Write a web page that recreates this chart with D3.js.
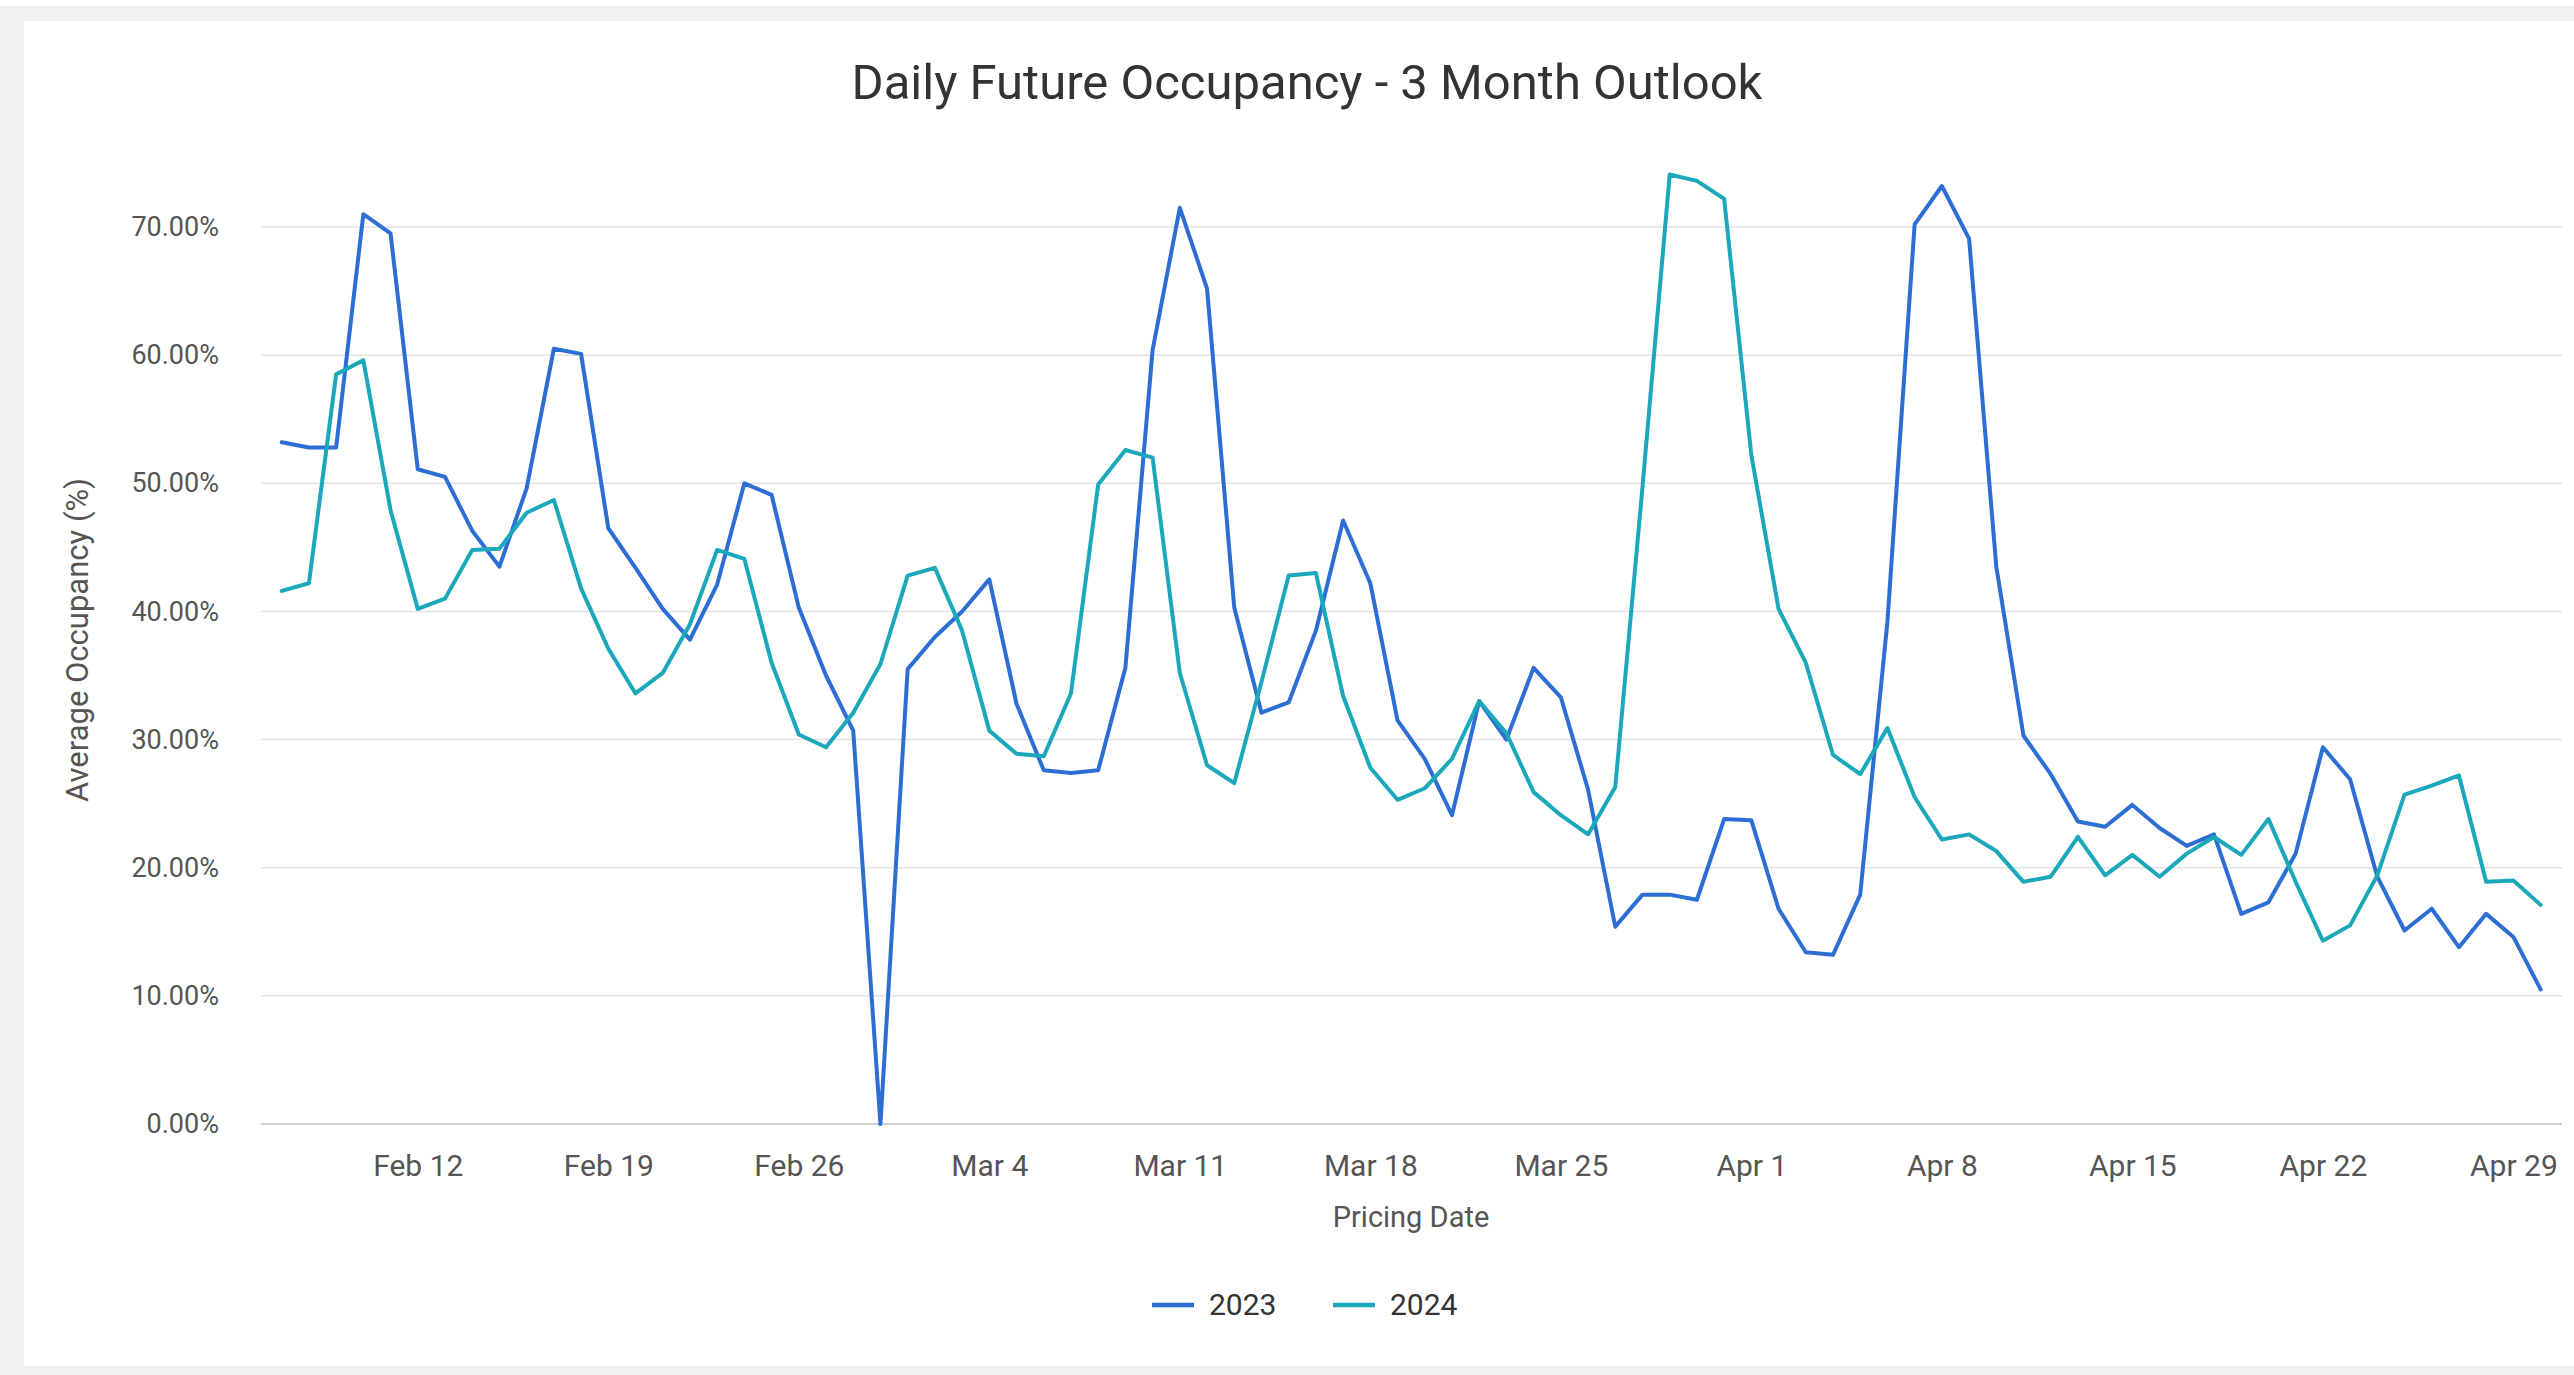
<!DOCTYPE html>
<html>
<head>
<meta charset="utf-8">
<script src="https://cdn.jsdelivr.net/npm/d3@7/dist/d3.min.js"></script>
<style>
  html, body { margin: 0; padding: 0; background: #ffffff; }
  svg { display: block; }
  text { font-family: Roboto, "Noto Sans", Arial, sans-serif; }
</style>
</head>
<body>
<svg id="chart" width="2574" height="1375"></svg>
<script>
// ---- data ----
const dates = [
  "2024-02-07","2024-02-08","2024-02-09","2024-02-10","2024-02-11","2024-02-12","2024-02-13","2024-02-14",
  "2024-02-15","2024-02-16","2024-02-17","2024-02-18","2024-02-19","2024-02-20","2024-02-21","2024-02-22",
  "2024-02-23","2024-02-24","2024-02-25","2024-02-26","2024-02-27","2024-02-28","2024-02-29",
  "2024-03-01","2024-03-02","2024-03-03","2024-03-04","2024-03-05","2024-03-06","2024-03-07","2024-03-08",
  "2024-03-09","2024-03-10","2024-03-11","2024-03-12","2024-03-13","2024-03-14","2024-03-15","2024-03-16",
  "2024-03-17","2024-03-18","2024-03-19","2024-03-20","2024-03-21","2024-03-22","2024-03-23","2024-03-24",
  "2024-03-25","2024-03-26","2024-03-27","2024-03-28","2024-03-29","2024-03-30","2024-03-31",
  "2024-04-01","2024-04-02","2024-04-03","2024-04-04","2024-04-05","2024-04-06","2024-04-07","2024-04-08",
  "2024-04-09","2024-04-10","2024-04-11","2024-04-12","2024-04-13","2024-04-14","2024-04-15","2024-04-16",
  "2024-04-17","2024-04-18","2024-04-19","2024-04-20","2024-04-21","2024-04-22","2024-04-23","2024-04-24",
  "2024-04-25","2024-04-26","2024-04-27","2024-04-28","2024-04-29","2024-04-30"
];

const occ2023 = [
  53.2, 52.8, 52.8, 71.0, 69.5, 51.1, 50.5, 46.3, 43.5, 49.6,
  60.5, 60.1, 46.5, 43.4, 40.2, 37.8, 42.1, 50.0, 49.1, 40.3,
  35.0, 30.7, 0.0, 35.5, 38.0, 40.0, 42.5, 32.8, 27.6, 27.4,
  27.6, 35.6, 60.4, 71.5, 65.2, 40.3, 32.1, 32.9, 38.5, 47.1,
  42.2, 31.5, 28.5, 24.1, 33.0, 30.0, 35.6, 33.3, 26.1, 15.4,
  17.9, 17.9, 17.5, 23.8, 23.7, 16.8, 13.4, 13.2, 17.9, 39.2,
  70.2, 73.2, 69.1, 43.5, 30.3, 27.3, 23.6, 23.2, 24.9, 23.1,
  21.7, 22.6, 16.4, 17.3, 21.1, 29.4, 26.9, 19.3, 15.1, 16.8,
  13.8, 16.4, 14.6, 10.5
];

const occ2024 = [
  41.6, 42.2, 58.5, 59.6, 47.9, 40.2, 41.0, 44.8, 44.9, 47.7,
  48.7, 41.8, 37.1, 33.6, 35.2, 39.0, 44.8, 44.1, 36.0, 30.4,
  29.4, 32.1, 35.9, 42.8, 43.4, 38.5, 30.7, 28.9, 28.7, 33.6,
  49.9, 52.6, 52.0, 35.2, 28.0, 26.6, 34.5, 42.8, 43.0, 33.4,
  27.8, 25.3, 26.2, 28.5, 33.0, 30.5, 25.9, 24.1, 22.6, 26.3,
  49.7, 74.1, 73.6, 72.2, 52.2, 40.2, 36.0, 28.8, 27.3, 30.9,
  25.5, 22.2, 22.6, 21.3, 18.9, 19.3, 22.4, 19.4, 21.0, 19.3,
  21.1, 22.4, 21.0, 23.8, 18.9, 14.3, 15.5, 19.4, 25.7, 26.4,
  27.2, 18.9, 19.0, 17.1
];

const seriesNames = ["2023", "2024"];
const seriesColors = ["#2d6ed5", "#1ba8bb"];

const xTickDates = ["2024-02-12","2024-02-19","2024-02-26","2024-03-04","2024-03-11","2024-03-18",
                    "2024-03-25","2024-04-01","2024-04-08","2024-04-15","2024-04-22","2024-04-29"];
const xTickLabels = ["Feb 12","Feb 19","Feb 26","Mar 4","Mar 11","Mar 18",
                     "Mar 25","Apr 1","Apr 8","Apr 15","Apr 22","Apr 29"];
const yTicks = [0, 10, 20, 30, 40, 50, 60, 70];

const titleText = "Daily Future Occupancy - 3 Month Outlook";
const xTitle = "Pricing Date";
const yTitle = "Average Occupancy (%)";

// ---- layout ----
const W = 2574, H = 1375;
const plotLeft = 261, plotRight = 2562;
const parse = d3.timeParse("%Y-%m-%d");
const svg = d3.select("#chart");

// page frame
svg.append("rect").attr("x", 0).attr("y", 0).attr("width", W).attr("height", H).attr("fill", "#ffffff");
svg.append("rect").attr("x", 0).attr("y", 6).attr("width", W).attr("height", H - 6).attr("fill", "#f1f1f1");
svg.append("rect").attr("x", 24).attr("y", 21).attr("width", W - 24).attr("height", 1345)
   .attr("fill", "#ffffff");

const x = d3.scaleTime()
  .domain([parse(dates[0]), parse(dates[dates.length - 1])])
  .range([281.7, 2540.6]);
const y = d3.scaleLinear().domain([0, 75]).range([1124, 1124 - 75 * 12.814]);

// gridlines
svg.append("g").selectAll("line").data(yTicks).join("line")
  .attr("x1", plotLeft).attr("x2", plotRight)
  .attr("y1", d => y(d)).attr("y2", d => y(d))
  .attr("stroke", d => d === 0 ? "#cfcfcf" : "#e3e3e3")
  .attr("stroke-width", d => d === 0 ? 2 : 1.5);

// y axis
const yAxis = d3.axisLeft(y).tickValues(yTicks).tickSize(0).tickPadding(0)
  .tickFormat(d => d3.format(".2f")(d) + "%");
const gy = svg.append("g").attr("transform", "translate(219,0)").call(yAxis);
gy.select(".domain").remove();
gy.selectAll("text").attr("font-size", 27).attr("fill", "#555").attr("font-family", "Roboto, sans-serif");

// x axis
const xAxis = d3.axisBottom(x).tickValues(xTickDates.map(parse)).tickSize(0).tickPadding(0)
  .tickFormat((d, i) => xTickLabels[i]);
const gx = svg.append("g").attr("transform", "translate(0,1155)").call(xAxis);
gx.select(".domain").remove();
gx.selectAll("text").attr("font-size", 30).attr("fill", "#555").attr("font-family", "Roboto, sans-serif");

// lines
const series = [occ2023, occ2024];
const line = d3.line()
  .x((d, i) => x(parse(dates[i])))
  .y(d => y(d));
series.forEach((vals, k) => {
  svg.append("path").datum(vals)
    .attr("d", line)
    .attr("fill", "none")
    .attr("stroke", seriesColors[k])
    .attr("stroke-width", 4)
    .attr("stroke-linejoin", "round")
    .attr("stroke-linecap", "round");
});

// title
svg.append("text").attr("x", 1307).attr("y", 99).attr("text-anchor", "middle")
  .attr("font-size", 49).attr("fill", "#333").text(titleText);

// axis titles
svg.append("text").attr("x", 1411).attr("y", 1227).attr("text-anchor", "middle")
  .attr("font-size", 29).attr("fill", "#555").text(xTitle);
svg.append("text").attr("transform", "translate(88,640) rotate(-90)").attr("text-anchor", "middle")
  .attr("font-size", 31).attr("fill", "#555").text(yTitle);

// legend
const legendX = [1152, 1333];
seriesNames.forEach((name, k) => {
  svg.append("line").attr("x1", legendX[k]).attr("x2", legendX[k] + 42)
    .attr("y1", 1305).attr("y2", 1305)
    .attr("stroke", seriesColors[k]).attr("stroke-width", 4.5);
  svg.append("text").attr("x", legendX[k] + 57).attr("y", 1315)
    .attr("font-size", 30).attr("fill", "#333").text(name);
});
</script>
</body>
</html>
